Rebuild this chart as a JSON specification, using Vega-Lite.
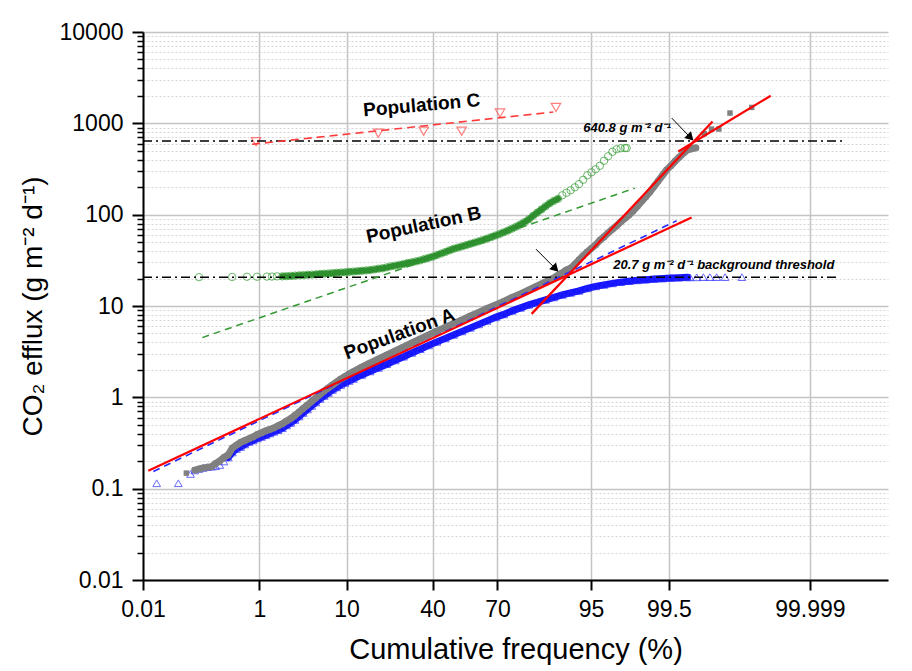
{
  "$schema": "https://vega.github.io/schema/vega-lite/v6.json",
  "width": 745,
  "height": 548,
  "autosize": "none",
  "padding": {"left": 143, "top": 32, "right": 24, "bottom": 91},
  "background": "white",
  "config": {"view": {"stroke": null}, "font": "Liberation Sans"},
  "datasets": {
    "allData": [
      {"frequency":0.0687,"efflux":0.148},{"frequency":0.0968,"efflux":0.160},{"frequency":0.135,"efflux":0.169},{"frequency":0.187,"efflux":0.174},
      {"frequency":0.219,"efflux":0.189},{"frequency":0.256,"efflux":0.201},{"frequency":0.298,"efflux":0.220},{"frequency":0.347,"efflux":0.234},
      {"frequency":0.403,"efflux":0.279},{"frequency":0.466,"efflux":0.299},{"frequency":0.539,"efflux":0.322},{"frequency":0.621,"efflux":0.337},
      {"frequency":0.714,"efflux":0.353},{"frequency":0.820,"efflux":0.370},{"frequency":0.939,"efflux":0.392},{"frequency":1.072,"efflux":0.410},
      {"frequency":1.222,"efflux":0.430},{"frequency":1.390,"efflux":0.445},{"frequency":1.578,"efflux":0.464},{"frequency":1.786,"efflux":0.489},
      {"frequency":2.018,"efflux":0.514},{"frequency":2.275,"efflux":0.552},{"frequency":2.56,"efflux":0.587},{"frequency":2.87,"efflux":0.634},
      {"frequency":3.22,"efflux":0.692},{"frequency":3.59,"efflux":0.756},{"frequency":4.01,"efflux":0.826},{"frequency":4.46,"efflux":0.902},
      {"frequency":4.95,"efflux":0.985},{"frequency":5.48,"efflux":1.076},{"frequency":6.06,"efflux":1.176},{"frequency":6.68,"efflux":1.268},
      {"frequency":7.35,"efflux":1.368},{"frequency":8.08,"efflux":1.475},{"frequency":8.85,"efflux":1.591},{"frequency":9.68,"efflux":1.695},
      {"frequency":10.56,"efflux":1.806},{"frequency":11.51,"efflux":1.913},{"frequency":13.57,"efflux":2.138},{"frequency":15.87,"efflux":2.383},
      {"frequency":18.41,"efflux":2.636},{"frequency":21.19,"efflux":2.915},{"frequency":24.20,"efflux":3.225},{"frequency":27.43,"efflux":3.567},
      {"frequency":30.85,"efflux":3.947},{"frequency":34.46,"efflux":4.365},{"frequency":38.21,"efflux":4.828},{"frequency":42.07,"efflux":5.341},
      {"frequency":46.02,"efflux":5.834},{"frequency":50.0,"efflux":6.453},{"frequency":53.98,"efflux":7.050},{"frequency":57.93,"efflux":7.798},
      {"frequency":61.79,"efflux":8.518},{"frequency":65.54,"efflux":9.422},{"frequency":69.15,"efflux":10.29},{"frequency":72.57,"efflux":11.24},
      {"frequency":75.80,"efflux":12.43},{"frequency":78.81,"efflux":13.58},{"frequency":81.59,"efflux":15.02},{"frequency":84.13,"efflux":16.62},
      {"frequency":86.43,"efflux":18.38},{"frequency":88.49,"efflux":20.34},{"frequency":89.44,"efflux":21.67},{"frequency":90.32,"efflux":23.08},
      {"frequency":91.15,"efflux":24.89},{"frequency":91.92,"efflux":25.85},{"frequency":92.65,"efflux":28.59},{"frequency":93.32,"efflux":32.03},
      {"frequency":93.94,"efflux":35.43},{"frequency":94.52,"efflux":39.19},{"frequency":95.05,"efflux":42.80},{"frequency":95.54,"efflux":46.75},
      {"frequency":95.99,"efflux":52.37},{"frequency":96.41,"efflux":57.21},{"frequency":96.78,"efflux":63.28},{"frequency":97.13,"efflux":69.13},
      {"frequency":97.44,"efflux":75.51},{"frequency":97.725,"efflux":83.53},{"frequency":97.982,"efflux":91.23},{"frequency":98.214,"efflux":99.65},
      {"frequency":98.422,"efflux":110.2},{"frequency":98.610,"efflux":123.5},{"frequency":98.778,"efflux":140.1},{"frequency":98.928,"efflux":156.9},
      {"frequency":99.061,"efflux":178.0},{"frequency":99.180,"efflux":204.5},{"frequency":99.286,"efflux":235.0},{"frequency":99.379,"efflux":269.9},
      {"frequency":99.461,"efflux":310.1},{"frequency":99.534,"efflux":343.0},{"frequency":99.598,"efflux":384.2},{"frequency":99.653,"efflux":425.0},
      {"frequency":99.702,"efflux":470.0},{"frequency":99.744,"efflux":513.4},{"frequency":99.781,"efflux":526.5},{"frequency":99.813,"efflux":540.0},
      {"frequency":99.865,"efflux":768.9},{"frequency":99.899,"efflux":865.6},{"frequency":99.925,"efflux":865.6},{"frequency":99.953,"efflux":1296},
      {"frequency":99.982,"efflux":1493}
    ],
    "populationA": [
      {"frequency":0.0189,"efflux":0.1146},{"frequency":0.049,"efflux":0.1146},{"frequency":0.0816,"efflux":0.1449},{"frequency":0.0968,"efflux":0.1583},
      {"frequency":0.1144,"efflux":0.1643},{"frequency":0.135,"efflux":0.1686},{"frequency":0.159,"efflux":0.1720},{"frequency":0.187,"efflux":0.1742},
      {"frequency":0.219,"efflux":0.1759},{"frequency":0.256,"efflux":0.1818},{"frequency":0.298,"efflux":0.1986},{"frequency":0.347,"efflux":0.2197},
      {"frequency":0.403,"efflux":0.2492},{"frequency":0.466,"efflux":0.2722},{"frequency":0.539,"efflux":0.2863},{"frequency":0.621,"efflux":0.3049},
      {"frequency":0.714,"efflux":0.3248},{"frequency":0.820,"efflux":0.3373},{"frequency":0.939,"efflux":0.3548},{"frequency":1.072,"efflux":0.3685},
      {"frequency":1.222,"efflux":0.3846},{"frequency":1.390,"efflux":0.4025},{"frequency":1.578,"efflux":0.4202},{"frequency":1.786,"efflux":0.4374},
      {"frequency":2.018,"efflux":0.4588},{"frequency":2.275,"efflux":0.4925},{"frequency":2.56,"efflux":0.5245},{"frequency":2.87,"efflux":0.5657},
      {"frequency":3.22,"efflux":0.6180},{"frequency":3.59,"efflux":0.6753},{"frequency":4.01,"efflux":0.7376},{"frequency":4.46,"efflux":0.8054},
      {"frequency":4.95,"efflux":0.8796},{"frequency":5.48,"efflux":0.9610},{"frequency":6.06,"efflux":1.036},{"frequency":6.68,"efflux":1.118},
      {"frequency":7.35,"efflux":1.206},{"frequency":8.08,"efflux":1.284},{"frequency":8.85,"efflux":1.368},{"frequency":9.68,"efflux":1.439},
      {"frequency":10.56,"efflux":1.513},{"frequency":11.51,"efflux":1.591},{"frequency":13.57,"efflux":1.760},{"frequency":15.87,"efflux":1.923},
      {"frequency":18.41,"efflux":2.101},{"frequency":21.19,"efflux":2.306},{"frequency":24.20,"efflux":2.538},{"frequency":27.43,"efflux":2.786},
      {"frequency":30.85,"efflux":3.067},{"frequency":34.46,"efflux":3.367},{"frequency":38.21,"efflux":3.705},{"frequency":42.07,"efflux":4.047},
      {"frequency":46.02,"efflux":4.421},{"frequency":50.0,"efflux":4.828},{"frequency":53.98,"efflux":5.274},{"frequency":57.93,"efflux":5.762},
      {"frequency":61.79,"efflux":6.293},{"frequency":65.54,"efflux":6.875},{"frequency":69.15,"efflux":7.508},{"frequency":72.57,"efflux":8.098},
      {"frequency":75.80,"efflux":8.847},{"frequency":78.81,"efflux":9.541},{"frequency":81.59,"efflux":10.29},{"frequency":84.13,"efflux":10.96},
      {"frequency":86.43,"efflux":11.68},{"frequency":88.49,"efflux":12.43},{"frequency":90.32,"efflux":13.24},{"frequency":91.92,"efflux":13.93},
      {"frequency":93.32,"efflux":14.65},{"frequency":94.52,"efflux":15.61},{"frequency":95.54,"efflux":16.41},{"frequency":96.41,"efflux":17.04},
      {"frequency":97.13,"efflux":17.70},{"frequency":97.725,"efflux":18.24},{"frequency":98.214,"efflux":18.71},{"frequency":98.610,"efflux":19.09},
      {"frequency":98.928,"efflux":19.43},{"frequency":99.180,"efflux":19.73},{"frequency":99.379,"efflux":19.98},{"frequency":99.534,"efflux":20.24},
      {"frequency":99.653,"efflux":20.44},{"frequency":99.744,"efflux":20.60},{"frequency":99.767,"efflux":20.6},{"frequency":99.819,"efflux":20.6},
      {"frequency":99.860,"efflux":20.7},{"frequency":99.892,"efflux":20.7},{"frequency":99.918,"efflux":20.7},{"frequency":99.942,"efflux":20.7},
      {"frequency":99.972,"efflux":20.7}
    ],
    "populationB": [
      {"frequency":0.115,"efflux":20.7},{"frequency":0.40,"efflux":20.8},{"frequency":0.667,"efflux":20.9},{"frequency":0.93,"efflux":20.9},
      {"frequency":1.27,"efflux":21.0},{"frequency":1.48,"efflux":21.0},{"frequency":1.72,"efflux":21.1},
      {"frequency":2.018,"efflux":21.12},{"frequency":2.275,"efflux":21.23},{"frequency":2.56,"efflux":21.34},{"frequency":2.87,"efflux":21.50},
      {"frequency":3.22,"efflux":21.67},{"frequency":3.59,"efflux":21.77},{"frequency":4.01,"efflux":21.94},{"frequency":4.46,"efflux":22.05},
      {"frequency":4.95,"efflux":22.22},{"frequency":5.48,"efflux":22.39},{"frequency":6.06,"efflux":22.56},{"frequency":6.68,"efflux":22.73},
      {"frequency":7.35,"efflux":22.90},{"frequency":8.08,"efflux":23.08},{"frequency":8.85,"efflux":23.25},{"frequency":9.68,"efflux":23.42},
      {"frequency":10.56,"efflux":23.66},{"frequency":11.51,"efflux":23.84},{"frequency":12.51,"efflux":24.08},{"frequency":13.57,"efflux":24.27},
      {"frequency":14.69,"efflux":24.51},{"frequency":15.87,"efflux":24.76},{"frequency":17.11,"efflux":25.14},{"frequency":18.41,"efflux":25.59},
      {"frequency":19.77,"efflux":25.91},{"frequency":21.19,"efflux":26.51},{"frequency":22.66,"efflux":27.19},{"frequency":24.20,"efflux":27.67},
      {"frequency":25.78,"efflux":28.23},{"frequency":27.43,"efflux":28.80},{"frequency":29.12,"efflux":29.54},{"frequency":30.85,"efflux":30.07},
      {"frequency":32.64,"efflux":30.83},{"frequency":34.46,"efflux":31.62},{"frequency":36.32,"efflux":32.68},{"frequency":38.21,"efflux":33.69},
      {"frequency":40.13,"efflux":34.73},{"frequency":42.07,"efflux":36.14},{"frequency":44.04,"efflux":37.54},{"frequency":46.02,"efflux":38.99},
      {"frequency":48.01,"efflux":40.70},{"frequency":50.0,"efflux":42.27},{"frequency":51.99,"efflux":43.57},{"frequency":53.98,"efflux":44.91},
      {"frequency":55.96,"efflux":46.41},{"frequency":57.93,"efflux":47.96},{"frequency":59.87,"efflux":49.43},{"frequency":61.79,"efflux":51.08},
      {"frequency":63.68,"efflux":52.78},{"frequency":65.54,"efflux":54.67},{"frequency":67.36,"efflux":56.78},{"frequency":69.15,"efflux":59.12},
      {"frequency":70.88,"efflux":61.39},{"frequency":72.57,"efflux":64.08},{"frequency":74.22,"efflux":67.06},{"frequency":75.80,"efflux":70.35},
      {"frequency":77.34,"efflux":73.99},{"frequency":78.81,"efflux":78.42},{"frequency":80.23,"efflux":83.11},{"frequency":81.59,"efflux":88.96},
      {"frequency":82.89,"efflux":97.17},{"frequency":84.13,"efflux":105.3},{"frequency":85.31,"efflux":113.9},{"frequency":86.43,"efflux":123.5},
      {"frequency":87.49,"efflux":133.2},{"frequency":88.49,"efflux":141.9},{"frequency":89.44,"efflux":149.2},{"frequency":90.32,"efflux":163.0},
      {"frequency":91.15,"efflux":173.6},{"frequency":91.92,"efflux":184.9},{"frequency":92.65,"efflux":199.4},{"frequency":93.32,"efflux":216.2},
      {"frequency":93.94,"efflux":240.9},{"frequency":94.52,"efflux":269.9},{"frequency":95.05,"efflux":291.1},{"frequency":95.54,"efflux":314.1},
      {"frequency":95.99,"efflux":343.0},{"frequency":96.41,"efflux":389.1},{"frequency":96.78,"efflux":436.0},{"frequency":97.13,"efflux":488.3},
      {"frequency":97.44,"efflux":520.0},{"frequency":97.725,"efflux":533.3},{"frequency":97.982,"efflux":536.0},{"frequency":98.08,"efflux":536.0}
    ],
    "populationC": [
      {"frequency":0.90,"efflux":630},{"frequency":18.34,"efflux":779},{"frequency":35.99,"efflux":819},
      {"frequency":53.82,"efflux":819},{"frequency":71.04,"efflux":1296},{"frequency":88.96,"efflux":1493}
    ],
    "fits": [
      {"series":"All data, lower segment","frequency":0.01283,"efflux":0.1575},
      {"series":"All data, lower segment","frequency":99.78,"efflux":93.1},
      {"series":"All data, middle segment","frequency":82.47,"efflux":8.20},
      {"series":"All data, middle segment","frequency":99.903,"efflux":1048.6},
      {"series":"All data, upper segment","frequency":99.641,"efflux":492.0},
      {"series":"All data, upper segment","frequency":99.99262,"efflux":2005},
      {"series":"Population A","frequency":0.0162,"efflux":0.1543},
      {"series":"Population A","frequency":99.620,"efflux":85.65},
      {"series":"Population B","frequency":0.131,"efflux":4.51},
      {"series":"Population B","frequency":98.50,"efflux":195.4},
      {"series":"Population C","frequency":0.789,"efflux":590},
      {"series":"Population C","frequency":88.34,"efflux":1329}
    ],
    "thresholds": [
      {"threshold":"640.8","frequency":0.01,"efflux":640.8},
      {"threshold":"640.8","frequency":99.99984,"efflux":640.8},
      {"threshold":"20.7","frequency":0.01,"efflux":20.7},
      {"threshold":"20.7","frequency":99.99981,"efflux":20.7}
    ],
    "arrows": [
      {"arrow":"640.8 crossing","end":"tail","frequency":99.547,"efflux":1142.6},
      {"arrow":"640.8 crossing","end":"head","frequency":99.771,"efflux":698.6},
      {"arrow":"20.7 crossing","end":"tail","frequency":83.77,"efflux":41.95},
      {"arrow":"20.7 crossing","end":"head","frequency":88.86,"efflux":25.59}
    ],
    "labels": [
      {"text":"Population A","frequency":25.83,"efflux":4.953},
      {"text":"Population B","frequency":35.99,"efflux":77.4},
      {"text":"Population C","frequency":35.09,"efflux":1578},
      {"text":"640.8 g m⁻² d⁻¹","frequency":93.96,"efflux":794.5},
      {"text":"20.7 g m⁻² d⁻¹ background threshold","frequency":97.198,"efflux":25.33}
    ]
  },
  "encoding": {
    "x": {
      "field": "z",
      "type": "quantitative",
      "title": "Cumulative frequency (%)",
      "scale": {"domain": [-3.719016, 5.199338], "nice": false, "zero": false},
      "axis": {
        "values": [-3.719016, -2.326348, -1.281552, -0.253347, 0.524401, 1.644854, 2.575829, 4.264891],
        "labelExpr": "datum.value < -3 ? '0.01' : datum.value < -2 ? '1' : datum.value < -1 ? '10' : datum.value < 0 ? '40' : datum.value < 1 ? '70' : datum.value < 2 ? '95' : datum.value < 3 ? '99.5' : '99.999'",
        "grid": true,
        "gridColor": "#c4c4c4",
        "gridWidth": 1.5,
        "domainColor": "#000000",
        "domainWidth": 2,
        "tickColor": "#000000",
        "tickWidth": 2,
        "tickSize": 10,
        "labelFont": "Liberation Sans",
        "labelFontSize": 23,
        "labelColor": "#000000",
        "labelPadding": 8,
        "labelFlush": false,
        "labelOverlap": false,
        "titleFont": "Liberation Sans",
        "titleFontSize": 29,
        "titleFontWeight": "normal",
        "titleColor": "#000000",
        "titlePadding": 14
      }
    },
    "y": {
      "field": "efflux",
      "type": "quantitative",
      "title": "CO₂ efflux (g m⁻² d⁻¹)",
      "scale": {"type": "log", "domain": [0.01, 10000], "nice": false},
      "axis": {
        "values": [0.01,0.02,0.03,0.04,0.05,0.06,0.07,0.08,0.09,0.1,0.2,0.3,0.4,0.5,0.6,0.7,0.8,0.9,1,2,3,4,5,6,7,8,9,10,20,30,40,50,60,70,80,90,100,200,300,400,500,600,700,800,900,1000,2000,3000,4000,5000,6000,7000,8000,9000,10000],
        "labelExpr": "abs(log(datum.value)/LN10 - round(log(datum.value)/LN10)) < 0.001 ? format(datum.value, '~g') : ''",
        "grid": true,
        "gridColor": {"condition": {"test": "abs(log(datum.value)/LN10 - round(log(datum.value)/LN10)) < 0.001", "value": "#c4c4c4"}, "value": "#d6d6d6"},
        "gridWidth": {"condition": {"test": "abs(log(datum.value)/LN10 - round(log(datum.value)/LN10)) < 0.001", "value": 1.5}, "value": 1},
        "gridDash": {"condition": {"test": "abs(log(datum.value)/LN10 - round(log(datum.value)/LN10)) < 0.001", "value": []}, "value": [2, 2]},
        "tickSize": {"condition": {"test": "abs(log(datum.value)/LN10 - round(log(datum.value)/LN10)) < 0.001", "value": 11}, "value": 6},
        "tickWidth": {"condition": {"test": "abs(log(datum.value)/LN10 - round(log(datum.value)/LN10)) < 0.001", "value": 2}, "value": 1.5},
        "tickColor": "#000000",
        "domainColor": "#000000",
        "domainWidth": 2,
        "labelFont": "Liberation Sans",
        "labelFontSize": 23,
        "labelColor": "#000000",
        "labelPadding": 9,
        "labelFlush": false,
        "labelOverlap": false,
        "titleFont": "Liberation Sans",
        "titleFontSize": 28,
        "titleFontWeight": "normal",
        "titleColor": "#000000",
        "titlePadding": 12
      }
    }
  },
  "layer": [
    {
      "data": {"name": "populationA"},
      "transform": [
        {"calculate": "quantileNormal(datum.frequency / 100)", "as": "z"},
        {"filter": "datum.frequency >= 0.3 && datum.frequency <= 99.75"}
      ],
      "mark": {"type": "line", "color": "#1414ff", "strokeWidth": 7, "strokeCap": "round", "clip": true}
    },
    {
      "data": {"name": "populationA"},
      "transform": [{"calculate": "quantileNormal(datum.frequency / 100)", "as": "z"}],
      "mark": {"type": "point", "shape": "triangle-up", "filled": false, "color": "#2a2aff", "strokeWidth": 1, "size": 60, "clip": true}
    },
    {
      "data": {"name": "allData"},
      "transform": [
        {"calculate": "quantileNormal(datum.frequency / 100)", "as": "z"},
        {"filter": "datum.frequency >= 0.09 && datum.frequency <= 99.82"}
      ],
      "mark": {"type": "line", "color": "#808080", "strokeWidth": 7, "strokeCap": "round", "clip": true}
    },
    {
      "data": {"name": "allData"},
      "transform": [{"calculate": "quantileNormal(datum.frequency / 100)", "as": "z"}],
      "mark": {"type": "point", "shape": "square", "filled": true, "color": "#808080", "opacity": 1, "size": 30, "clip": true}
    },
    {
      "data": {"name": "populationB"},
      "transform": [
        {"calculate": "quantileNormal(datum.frequency / 100)", "as": "z"},
        {"filter": "datum.frequency >= 2 && datum.frequency <= 90"}
      ],
      "mark": {"type": "line", "color": "#2e8b2e", "strokeWidth": 6, "strokeCap": "round", "clip": true}
    },
    {
      "data": {"name": "populationB"},
      "transform": [{"calculate": "quantileNormal(datum.frequency / 100)", "as": "z"}],
      "mark": {"type": "point", "shape": "circle", "filled": false, "color": "#2f9a2f", "strokeWidth": 1, "size": 55, "clip": true}
    },
    {
      "data": {"name": "populationC"},
      "transform": [{"calculate": "quantileNormal(datum.frequency / 100)", "as": "z"}],
      "mark": {"type": "point", "shape": "triangle-down", "filled": false, "color": "#ff4a4a", "strokeWidth": 1.2, "size": 90, "clip": true}
    },
    {
      "data": {"name": "thresholds"},
      "transform": [{"calculate": "quantileNormal(datum.frequency / 100)", "as": "z"}],
      "mark": {"type": "line", "color": "#000000", "strokeWidth": 1.5, "strokeDash": [9, 4, 2, 4]},
      "encoding": {"detail": {"field": "threshold"}}
    },
    {
      "data": {"name": "fits"},
      "transform": [
        {"calculate": "quantileNormal(datum.frequency / 100)", "as": "z"},
        {"filter": "datum.series == 'Population A'"}
      ],
      "mark": {"type": "line", "color": "#2a2aff", "strokeWidth": 1.6, "strokeDash": [7, 5]},
      "encoding": {"detail": {"field": "series"}}
    },
    {
      "data": {"name": "fits"},
      "transform": [
        {"calculate": "quantileNormal(datum.frequency / 100)", "as": "z"},
        {"filter": "datum.series == 'Population B'"}
      ],
      "mark": {"type": "line", "color": "#339933", "strokeWidth": 1.5, "strokeDash": [7, 5]},
      "encoding": {"detail": {"field": "series"}}
    },
    {
      "data": {"name": "fits"},
      "transform": [
        {"calculate": "quantileNormal(datum.frequency / 100)", "as": "z"},
        {"filter": "datum.series == 'Population C'"}
      ],
      "mark": {"type": "line", "color": "#ff3b3b", "strokeWidth": 1.6, "strokeDash": [8, 5]},
      "encoding": {"detail": {"field": "series"}}
    },
    {
      "data": {"name": "fits"},
      "transform": [
        {"calculate": "quantileNormal(datum.frequency / 100)", "as": "z"},
        {"filter": "indexof(datum.series, 'All data') == 0"}
      ],
      "mark": {"type": "line", "color": "#ff0000", "strokeWidth": 2.2},
      "encoding": {"detail": {"field": "series"}}
    },
    {
      "data": {"name": "arrows"},
      "transform": [{"calculate": "quantileNormal(datum.frequency / 100)", "as": "z"}],
      "mark": {"type": "line", "color": "#000000", "strokeWidth": 1},
      "encoding": {"detail": {"field": "arrow"}}
    },
    {
      "data": {"name": "arrows"},
      "transform": [
        {"calculate": "quantileNormal(datum.frequency / 100)", "as": "z"},
        {"filter": "datum.end == 'head'"}
      ],
      "mark": {"type": "point", "shape": "triangle-right", "angle": 45, "filled": true, "color": "#000000", "opacity": 1, "size": 90}
    },
    {
      "data": {"name": "labels"},
      "transform": [
        {"calculate": "quantileNormal(datum.frequency / 100)", "as": "z"},
        {"filter": "datum.text == 'Population A'"}
      ],
      "mark": {"type": "text", "font": "Liberation Sans", "fontWeight": "bold", "fontSize": 19, "angle": -20, "align": "center", "baseline": "middle", "color": "#000000"},
      "encoding": {"text": {"field": "text"}}
    },
    {
      "data": {"name": "labels"},
      "transform": [
        {"calculate": "quantileNormal(datum.frequency / 100)", "as": "z"},
        {"filter": "datum.text == 'Population B'"}
      ],
      "mark": {"type": "text", "font": "Liberation Sans", "fontWeight": "bold", "fontSize": 19, "angle": -12, "align": "center", "baseline": "middle", "color": "#000000"},
      "encoding": {"text": {"field": "text"}}
    },
    {
      "data": {"name": "labels"},
      "transform": [
        {"calculate": "quantileNormal(datum.frequency / 100)", "as": "z"},
        {"filter": "datum.text == 'Population C'"}
      ],
      "mark": {"type": "text", "font": "Liberation Sans", "fontWeight": "bold", "fontSize": 19, "angle": -5, "align": "center", "baseline": "middle", "color": "#000000"},
      "encoding": {"text": {"field": "text"}}
    },
    {
      "data": {"name": "labels"},
      "transform": [
        {"calculate": "quantileNormal(datum.frequency / 100)", "as": "z"},
        {"filter": "indexof(datum.text, 'Population') < 0"}
      ],
      "mark": {"type": "text", "font": "Liberation Sans", "fontWeight": "bold", "fontStyle": "italic", "fontSize": 13, "align": "left", "baseline": "alphabetic", "color": "#000000"},
      "encoding": {"text": {"field": "text"}}
    }
  ]
}
